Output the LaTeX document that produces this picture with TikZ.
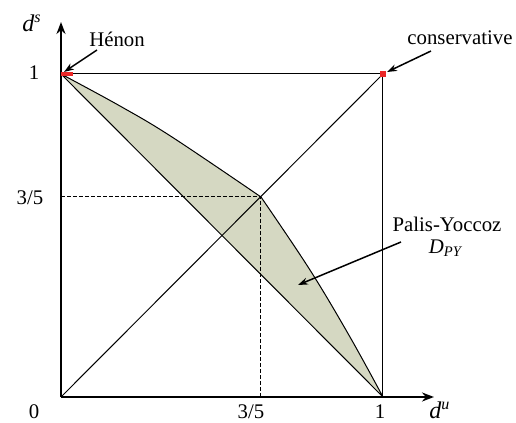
\documentclass[tikz,border=0pt]{standalone}
\usepackage{fontspec}
\setmainfont{Liberation Serif}
\usetikzlibrary{arrows.meta}
\definecolor{regfill}{RGB}{213,216,194}
\definecolor{mred}{RGB}{235,40,40}
\tikzset{
  lbl/.style={inner sep=0pt, font=\fontsize{10.4}{12}\selectfont},
  biglbl/.style={inner sep=0pt, font=\fontsize{12}{14}\selectfont},
  axis/.style={line width=1pt, -{Stealth[length=6pt,width=4.5pt]}},
  thinline/.style={line width=0.5pt},
  dashline/.style={line width=0.5pt, dash pattern=on 2pt off 1pt},
  ptr/.style={line width=0.75pt, -{Stealth[length=5pt,width=3.5pt]}}
}
\begin{document}
\begin{tikzpicture}[x=0.5pt,y=-0.5pt]
\useasboundingbox (0,0) rectangle (516,423);
% key points
\coordinate (O) at (61,397);
\coordinate (TL) at (61,74);
\coordinate (TR) at (383,74);
\coordinate (BR) at (383,397);
\coordinate (P) at (261,197);
\coordinate (PL) at (61,197);
\coordinate (PB) at (261,397);
\coordinate (Ytip) at (61,22);
\coordinate (Xtip) at (434,397);
% region
\filldraw[fill=regfill, draw=black, thinline, line join=round]
  plot[smooth, tension=0.6] coordinates {(61,74) (120,106) (172,137) (261,197)}
  -- plot[smooth, tension=0.6] coordinates {(261,197) (310,270) (350,337) (383,397)}
  -- cycle;
% square and diagonal
\draw[thinline] (TL) -- (TR) -- (BR);
\draw[thinline] (O) -- (TR);
% dashed
\draw[dashline] (PL) -- (P) -- (PB);
% axes
\draw[axis] (O) -- (Ytip);
\draw[axis] (O) -- (Xtip);
% red markers
\draw[mred, line width=1.6pt] (61.5,74) -- (73,74);
\fill[mred] (380,71) rectangle (386,77);
% labels
\node[biglbl] (ds) at (32,23) {\textit{d\textsuperscript{s}}};
\node[biglbl] (du) at (440,410) {\textit{d\textsuperscript{u}}};
\node[lbl] (y1) at (34,73) {1};
\node[lbl] (y35) at (30,198) {3/5};
\node[lbl] (x0) at (34,412) {0};
\node[lbl] (x35) at (251,412) {3/5};
\node[lbl] (x1) at (380,412) {1};
\node[lbl] (henon) at (117,39) {Hénon};
\node[lbl] (cons) at (460,38) {conservative};
\node[lbl] (pal) at (447,224) {Palis-Yoccoz};
\node[lbl] (dpy) at (446,248) {\textit{D}\textsubscript{\textit{PY}}};
% pointers
\coordinate (h0) at (97,50);
\coordinate (h1) at (64,72);
\coordinate (c0) at (431,51);
\coordinate (c1) at (387,72);
\coordinate (p0) at (401,242);
\coordinate (p1) at (298,285);
\draw[ptr] (h0) -- (h1);
\draw[ptr] (c0) -- (c1);
\draw[ptr] (p0) -- (p1);
\end{tikzpicture}
\end{document}
